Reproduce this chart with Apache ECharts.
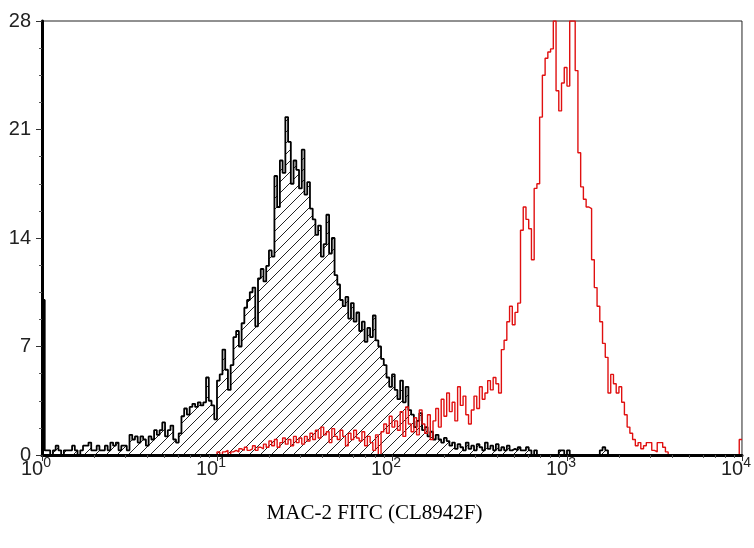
<!DOCTYPE html>
<html><head><meta charset="utf-8">
<script src="https://cdn.jsdelivr.net/npm/echarts@6/dist/echarts.min.js"></script>
<style>html,body{margin:0;padding:0;background:#fff}#c{width:754px;height:548px}</style>
</head><body><div id="c"></div>
<script>
// Histogram channels: 256 channels over 4 log decades (64 per decade)
const channelsPerDecade = 64;
const xDecadeExponents = [0, 1, 2, 3, 4];
const xMinorTicks = [2,3,4,5,6,7,8,9,20,30,40,50,60,70,80,90,200,300,400,500,600,700,800,900,2000,3000,4000,5000,6000,7000,8000,9000];
const yTicks = [0, 7, 14, 21, 28];
const xAxisTitle = 'MAC-2 FITC (CL8942F)';

// Isotype control (black, hatched)
const isotypeCounts = [
10,0.3,0.3,0,0.3,0.6,0.3,0,0.3,0.3,
0.3,0.6,0.3,0,0.3,0.6,0.6,0.8,0.3,0.3,
0.6,0.3,0.3,0.6,0.3,0.8,0.6,0.8,0.3,0.6,
0.6,0.3,1.3,1.0,1.2,0.8,1.2,1.0,0.6,1.2,
1.0,1.6,1.3,1.6,2.1,1.2,1.6,1.9,1.0,0.8,
1.4,2.5,3.0,2.6,3.1,3.3,3.1,3.4,3.2,3.4,
5.0,3.5,3.2,2.3,4.8,5.2,6.8,5.5,4.2,5.8,
7.6,8.0,7.0,8.5,9.5,10.0,10.5,10.8,8.3,11.4,
12.0,11.2,12.2,13.2,12.8,18.0,16.0,19.0,18.2,21.8,
20.2,17.5,19.0,18.4,17.2,19.7,16.8,17.6,15.9,15.2,
14.2,14.8,12.8,13.6,15.5,13.0,14.0,11.6,11.0,10.0,
9.6,10.2,8.8,9.8,8.6,9.2,8.0,8.6,7.3,8.2,
7.6,9.0,7.4,7.0,6.2,5.8,5.0,4.4,5.2,4.2,
3.6,4.8,3.4,4.4,2.9,2.6,1.8,2.2,2.7,1.6,
1.8,1.2,1.5,1.0,1.3,1.0,0.8,1.1,0.9,0.6,
0.8,0.4,0.7,0.5,0.3,0.8,0.4,0.6,0.3,0.7,
0.5,0.3,0.8,0.4,0.6,0.3,0.7,0.3,0.5,0.3,
0.6,0.3,0.4,0.3,0.5,0.3,0.3,0.5,0.3,0,
0.3,0,0,0,0,0,0,0,0,0.3,
0.3,0,0.3,0,0,0,0,0,0,0,
0,0,0,0,0.3,0.5,0.3,0,0,0,
0,0,0,0,0,0,0,0,0,0,
0,0,0,0,0,0,0,0,0,0,
0,0,0,0,0,0,0,0,0,0,
0,0,0,0,0,0,0,0,0,0,
0,0,0,0,0,0
];

// MAC-2 stained (red)
const mac2Counts = [
0,0,0,0,0,0,0,0,0,0,
0,0,0,0,0,0,0,0,0,0,
0,0,0,0,0,0,0,0,0,0,
0,0,0,0,0,0,0,0,0,0,
0,0,0,0,0,0,0,0,0,0,
0,0,0,0,0,0,0,0,0,0,
0,0,0,0,0.2,0,0.2,0.3,0,0.2,
0.3,0.2,0.4,0.3,0.5,0.3,0.4,0.6,0.3,0.5,
0.4,0.7,0.5,0.9,0.6,1.0,0.5,0.8,1.1,0.7,
1.0,0.6,1.2,0.8,1.1,0.7,1.2,0.9,1.4,1.0,
1.6,1.1,1.8,1.3,1.5,0.8,1.7,1.2,1.0,1.6,
1.2,0.6,1.4,1.0,1.6,1.1,0.9,1.5,0.6,1.2,
0.8,0.3,1.3,0,1.5,2.0,1.4,2.5,1.8,2.2,
1.6,2.8,1.2,3.1,2.0,1.5,2.4,1.3,2.9,2.0,
1.4,2.6,1.0,2.2,3.0,1.8,3.6,2.5,4.0,2.8,
3.4,2.2,4.4,3.2,3.8,2.6,2.0,2.9,3.8,3.0,
4.4,3.6,4.0,4.8,4.2,5.0,4.6,4.0,6.8,7.4,
8.6,9.6,8.4,9.2,9.8,14.5,16.0,15.2,14.6,12.6,
17.2,17.5,21.8,24.5,25.6,26.0,26.2,28,23.5,22.2,
24.0,25.0,23.8,28,28,24.8,19.5,17.3,16.5,16.0,
15.9,12.6,10.8,9.6,8.6,7.2,6.3,4.0,5.2,4.6,
4.0,4.4,3.4,2.6,1.8,1.4,1.0,0.6,0.8,0.4,
0.6,0.8,0.8,0.3,0.2,0.8,0.8,0.5,0.2,0,
0,0,0,0,0,0,0,0,0,0,
0,0,0,0,0,0,0,0,0,0,
0,0,0,0,0,1.0
];

// channel -> fluorescence (bin left edge); last point closes final bin
function toPoints(counts) {
  const pts = counts.map((v, i) => [Math.pow(10, i / channelsPerDecade), v]);
  pts.push([Math.pow(10, counts.length / channelsPerDecade), counts[counts.length - 1]]);
  return pts;
}

// hatch pattern
const hatch = document.createElement('canvas');
hatch.width = 11; hatch.height = 11;
(function(){
  const g = hatch.getContext('2d');
  g.strokeStyle = '#222'; g.lineWidth = 1;
  g.beginPath();
  g.moveTo(-1, 12); g.lineTo(12, -1);
  g.moveTo(-1, 1); g.lineTo(1, -1);
  g.moveTo(10, 12); g.lineTo(12, 10);
  g.stroke();
})();

const chart = echarts.init(document.getElementById('c'), null, {renderer: 'canvas'});
const tickFont = 'Liberation Sans';
chart.setOption({
  animation: false,
  backgroundColor: '#fff',
  grid: {left: 42, right: 9, top: 21, bottom: 93, show: true, borderColor: '#222', borderWidth: 1, backgroundColor: 'transparent'},
  xAxis: [{
    type: 'log', logBase: 10, min: 1, max: 10000, interval: 1, z: 5,
    axisLine: {show: true, onZero: false, lineStyle: {color: '#000', width: 3}},
    axisTick: {show: true, inside: false, length: 6, lineStyle: {color: '#333', width: 1}},
    splitLine: {show: false},
    minorTick: {show: false},
    axisLabel: {
      margin: 2, align: 'center', padding: [0, 12, 0, 0],
      formatter: v => '{b|10}{s|' + xDecadeExponents[Math.round(Math.log10(v))] + '}',
      rich: {
        b: {fontFamily: tickFont, fontSize: 20, color: '#222', verticalAlign: 'bottom', lineHeight: 22},
        s: {fontFamily: tickFont, fontSize: 14, color: '#222', verticalAlign: 'bottom', lineHeight: 22, padding: [0, 0, 9, 0]}
      }
    },
    name: xAxisTitle, nameLocation: 'middle', nameGap: 48,
    nameTextStyle: {fontFamily: 'Liberation Serif', fontSize: 21, color: '#000', padding: [0, 35, 0, 0]}
  }, {
    type: 'log', logBase: 10, min: 1, max: 10000, gridIndex: 0, position: 'bottom', z: 5,
    axisLine: {show: false},
    axisLabel: {show: false},
    splitLine: {show: false},
    axisTick: {show: true, inside: false, length: 3, customValues: xMinorTicks, lineStyle: {color: '#555', width: 1}}
  }],
  yAxis: {
    type: 'value', min: yTicks[0], max: yTicks[yTicks.length - 1], interval: 7, z: 5,
    axisLine: {show: true, lineStyle: {color: '#000', width: 3}},
    axisTick: {show: true, inside: false, length: 6, lineStyle: {color: '#333', width: 1}},
    minorTick: {show: true, splitNumber: 4, length: 3, lineStyle: {color: '#555', width: 1}},
    splitLine: {show: false},
    axisLabel: {margin: 11, fontFamily: tickFont, fontSize: 20, color: '#222'}
  },
  series: [{
    name: 'Isotype', type: 'line', step: 'end', xAxisIndex: 0, z: 2,
    data: toPoints(isotypeCounts), symbol: 'none', clip: true,
    lineStyle: {color: '#000', width: 1.8},
    areaStyle: {color: {image: hatch, repeat: 'repeat'}, opacity: 1, origin: 'start'}
  }, {
    name: 'MAC-2', type: 'line', step: 'end', xAxisIndex: 0, z: 3,
    data: toPoints(mac2Counts), symbol: 'none', clip: true,
    lineStyle: {color: '#e01010', width: 1.4}
  }]
});
</script>
</body></html>
